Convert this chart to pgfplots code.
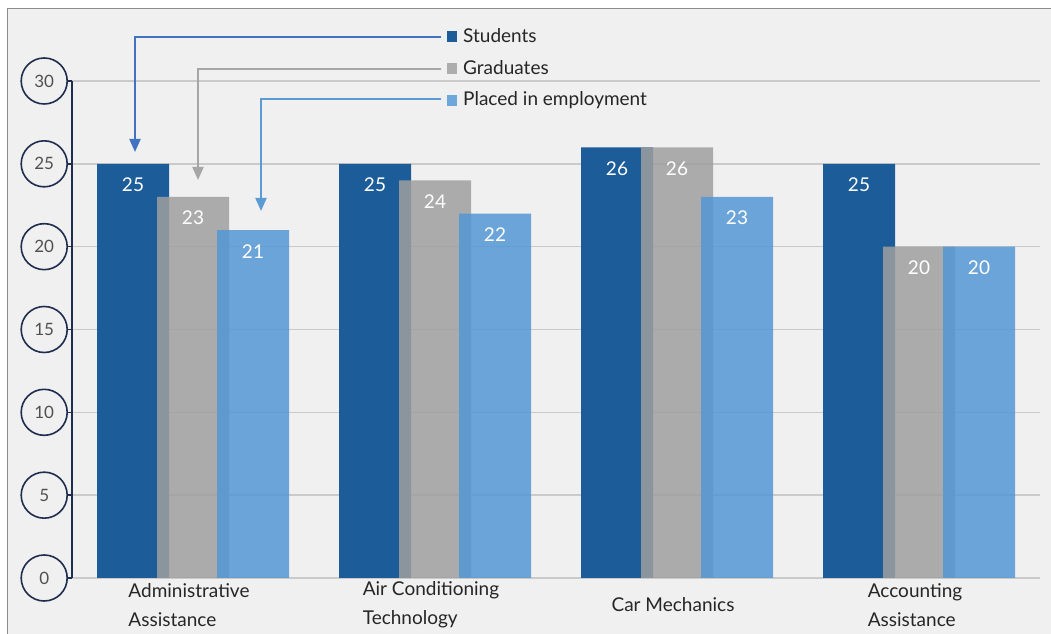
\documentclass[border=0pt]{standalone}
\usepackage{fontspec}
\setmainfont{Lato}
\usepackage{pgfplots}
\pgfplotsset{compat=1.18}
\usetikzlibrary{arrows.meta}
\definecolor{bg}{HTML}{F0F0F0}
\definecolor{navy}{HTML}{1F2D4E}
\definecolor{stud}{HTML}{1B5C99}
\definecolor{grad}{HTML}{9F9F9F}
\definecolor{plac}{HTML}{5497D4}
\definecolor{gridc}{HTML}{CACACA}
\definecolor{numc}{HTML}{505050}
\definecolor{labc}{HTML}{262626}
\definecolor{arrS}{HTML}{4173C2}
\definecolor{arrG}{HTML}{A6A6A6}
\definecolor{arrP}{HTML}{5B9BD5}
\begin{document}
\begin{tikzpicture}[x=1bp,y=1bp]
\useasboundingbox (0,0) rectangle (1051,634);
\fill[white] (0,0) rectangle (1051,634);
\fill[bg] (7,0) rectangle (1051,625);
\draw[gray!90, line width=1bp] (7,0) -- (7,625) -- (1051,625);
\begin{axis}[
  at={(72bp,56bp)}, anchor=south west,
  scale only axis, width=968bp, height=497bp,
  xmin=-0.5, xmax=3.5, ymin=0, ymax=30,
  ybar=-12bp, bar width=72bp,
  axis x line*=bottom, axis y line*=left,
  x axis line style={draw=none},
  y axis line style={navy, line width=2bp, -},
  xtick={0,1,2,3},
  xticklabels={{Administrative\\Assistance},{Air Conditioning\\Technology},{Car Mechanics},{Accounting\\Assistance}},
  xtick style={draw=none},
  xticklabel style={align=left, font=\fontsize{19bp}{29bp}\selectfont, text=labc, anchor=center, yshift=-23bp, xshift=-4bp},
  ytick={0,5,...,30},
  ytick style={navy, line width=1.6bp},
  major tick length=4bp, tick align=outside,
  yticklabel style={circle, draw=navy, fill=bg, line width=1.6bp, minimum size=46bp, inner sep=0pt, text=numc, font=\fontsize{17bp}{20bp}\selectfont, anchor=east},
  /pgf/number format/assume math mode=true,
  ymajorgrids, grid style={gridc, line width=1.6bp},
  nodes near coords,
  nodes near coords style={font=\fontsize{19bp}{20bp}\selectfont, text=white, text opacity=1, anchor=north, yshift=-14bp, inner sep=0pt},
]
\addplot[fill=stud, draw=none] coordinates {(0,25) (1,25) (2,26) (3,25)};
\addplot[fill=grad, draw=none, fill opacity=0.85] coordinates {(0,23) (1,24) (2,26) (3,20)};
\addplot[fill=plac, draw=none, fill opacity=0.85] coordinates {(0,21) (1,22) (2,23) (3,20)};
\end{axis}
% legend and pointers
\draw[arrS, line width=2bp, -{Triangle[width=11bp,length=13bp]}] (441,597) -- (135,597) -- (135,482);
\draw[arrG, line width=2bp, -{Triangle[width=11bp,length=13bp]}] (441,565) -- (198,565) -- (198,454);
\draw[arrP, line width=2bp, -{Triangle[width=11bp,length=13bp]}] (441,535) -- (261,535) -- (261,423);
\fill[stud] (447,592) rectangle (457,603);
\fill[grad!85!white] (447,560) rectangle (457,571);
\fill[plac!85!white] (447,528) rectangle (457,539);
\node[anchor=west, font=\fontsize{19bp}{22bp}\selectfont, text=labc, inner sep=0pt] at (463,598) {Students};
\node[anchor=west, font=\fontsize{19bp}{22bp}\selectfont, text=labc, inner sep=0pt] at (463,566) {Graduates};
\node[anchor=west, font=\fontsize{19bp}{22bp}\selectfont, text=labc, inner sep=0pt] at (463,534) {Placed in employment};
\end{tikzpicture}
\end{document}
